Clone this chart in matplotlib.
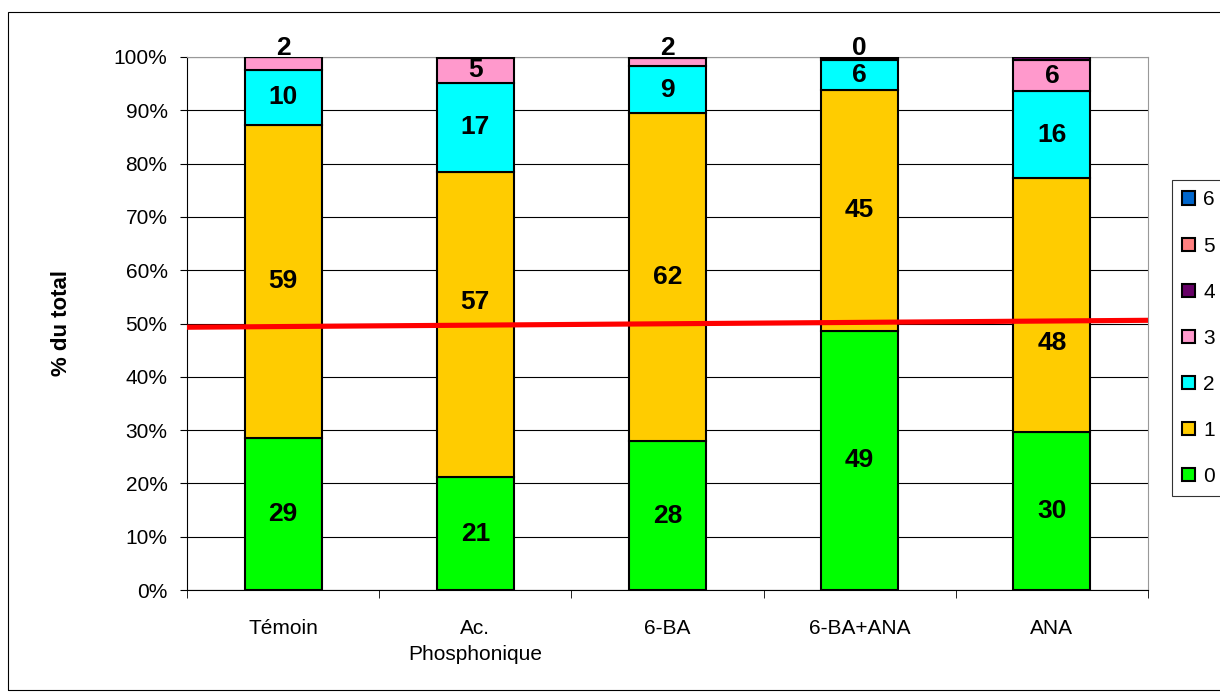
import matplotlib.pyplot as plt
import numpy as np
from matplotlib.patches import Rectangle
from matplotlib.ticker import FixedLocator

plt.rcParams['font.family'] = ['Liberation Sans', 'DejaVu Sans']

categories = ["Témoin", "Ac.\nPhosphonique", "6-BA", "6-BA+ANA", "ANA"]
classes = ["0", "1", "2", "3", "4", "5", "6"]
colors = ["#00FF00", "#FFCC00", "#00FFFF", "#FF99CC", "#660066", "#FF8080", "#0066CC"]

# share of total (%) per class, one list per class
c0 = [28.6, 21.2, 27.9, 48.6, 29.6]
c1 = [58.7, 57.2, 61.6, 45.3, 47.7]
c2 = [10.3, 16.8, 8.8, 5.6, 16.3]
c3 = [2.4, 4.6, 1.6, 0.3, 5.8]
c4 = [0.0, 0.2, 0.1, 0.2, 0.6]
c5 = [0.0, 0.0, 0.0, 0.0, 0.0]
c6 = [0.0, 0.0, 0.0, 0.0, 0.0]
series = [c0, c1, c2, c3, c4, c5, c6]

# trend line across the plot (% at left edge, % at right edge)
trend = [49.3, 50.6]

# labels moved off the trend line: (bar index, class index) -> shift in %
label_shift = {(1, 1): 4.2, (4, 1): -7.2}

fig = plt.figure(figsize=(12.2, 6.96), dpi=100)
ax = fig.add_axes([187/1220, 1-590/696, (1148-187)/1220, (590-57)/696])

x = np.arange(len(categories))
width = 0.4
bottom = np.zeros(len(categories))
label_font = dict(fontsize=19, fontweight="bold",
                  family=["Liberation Sans Narrow", "Liberation Sans", "DejaVu Sans"])
for k, (vals, col, name) in enumerate(zip(series, colors, classes)):
    vals = np.array(vals)
    ax.bar(x, vals, width, bottom=bottom, color=col, edgecolor="black",
           linewidth=1.5, label=name, zorder=3)
    if k <= 3:
        for i, v in enumerate(vals):
            if v >= 3:
                ypos = bottom[i] + v / 2 + label_shift.get((i, k), 0)
            else:
                ypos = 101.6
            ax.text(x[i], ypos, f"{round(v):d}", ha="center", va="center",
                    zorder=5, clip_on=False, **label_font)
    bottom += vals

ax.set_xlim(-0.5, len(categories) - 0.5)
ax.set_ylim(0, 100)
ax.plot([-0.5, len(categories) - 0.5], trend, color="#FF0000", linewidth=3.7,
        zorder=4, solid_capstyle="butt")

ax.set_yticks(np.arange(0, 101, 10))
ax.set_yticklabels([f"{t}%" for t in range(0, 101, 10)])
ax.grid(axis="y", color="black", linewidth=0.8, zorder=0)
ax.set_xticks(x)
ax.set_xticklabels(categories, linespacing=1.45)
ax.xaxis.set_minor_locator(FixedLocator(np.arange(-0.5, len(categories), 1)))
ax.tick_params(axis="x", which="major", length=0, labelsize=15, pad=21)
ax.tick_params(axis="x", which="minor", length=6, direction="out", color="black")
ax.tick_params(axis="y", length=5, labelsize=15, direction="out", pad=9)
ax.set_ylabel("% du total", fontsize=16, fontweight="bold", labelpad=30)

for side in ("top", "right"):
    ax.spines[side].set_color("#999999")
ax.spines["left"].set_color("black")
ax.spines["bottom"].set_color("black")

handles, labels = ax.get_legend_handles_labels()
leg = fig.legend(handles[::-1], labels[::-1], loc="upper left",
                 bbox_to_anchor=(1172/1220, 1-180/696), fontsize=15,
                 frameon=True, fancybox=False, edgecolor="black",
                 handlelength=0.6, handleheight=0.6, handletextpad=0.4,
                 labelspacing=1.3, borderpad=0.5, borderaxespad=0)
leg.get_frame().set_linewidth(0.8)

fig.patches.append(Rectangle((8/1220, 6/696), 1.0, 1-18/696, transform=fig.transFigure,
                             fill=False, edgecolor="black", linewidth=0.8))

fig.savefig("out.png", dpi=100)
